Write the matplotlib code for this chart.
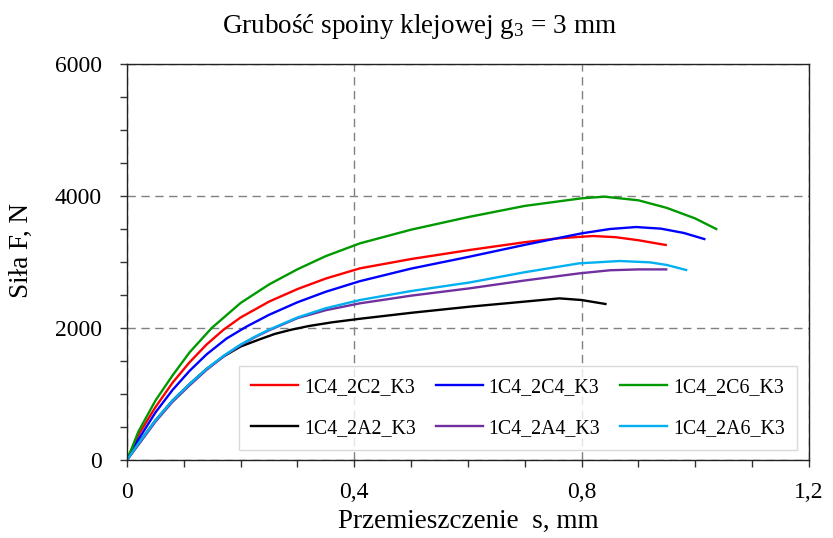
import matplotlib
matplotlib.use("Agg")
import matplotlib.pyplot as plt
from matplotlib.ticker import MultipleLocator, FuncFormatter

plt.rcParams['font.family'] = ['Liberation Serif', 'DejaVu Serif']
plt.rcParams['mathtext.fontset'] = 'custom'
plt.rcParams['mathtext.rm'] = 'Liberation Serif'
plt.rcParams['mathtext.it'] = 'Liberation Serif:italic'

# Force-displacement curves, adhesive thickness g3 = 3 mm
s_2C2 = [0, 0.02, 0.05, 0.08, 0.11, 0.14, 0.17, 0.2, 0.25, 0.3, 0.35, 0.41, 0.5, 0.603, 0.7, 0.76, 0.82, 0.86, 0.9, 0.948]
F_2C2 = [0, 380, 800, 1170, 1480, 1750, 1975, 2160, 2400, 2590, 2750, 2904, 3045, 3182, 3300, 3360, 3394, 3376, 3330, 3258]

s_2C4 = [0, 0.02, 0.05, 0.08, 0.11, 0.14, 0.175, 0.21, 0.25, 0.3, 0.35, 0.41, 0.5, 0.603, 0.7, 0.76, 0.8, 0.85, 0.896, 0.94, 0.98, 1.016]
F_2C4 = [0, 310, 720, 1060, 1350, 1600, 1840, 2020, 2200, 2390, 2550, 2710, 2900, 3081, 3260, 3365, 3434, 3500, 3530, 3505, 3440, 3348]

s_2C6 = [0, 0.02, 0.05, 0.08, 0.11, 0.149, 0.2, 0.25, 0.3, 0.35, 0.41, 0.5, 0.6, 0.7, 0.8, 0.84, 0.9, 0.95, 1.0, 1.037]
F_2C6 = [0, 430, 900, 1280, 1630, 2000, 2380, 2660, 2890, 3090, 3283, 3490, 3680, 3850, 3965, 3990, 3935, 3820, 3660, 3500]

s_2A2 = [0, 0.02, 0.05, 0.08, 0.11, 0.14, 0.17, 0.2, 0.234, 0.26, 0.287, 0.32, 0.36, 0.41, 0.5, 0.603, 0.7, 0.761, 0.8, 0.842]
F_2A2 = [0, 250, 600, 900, 1150, 1380, 1570, 1720, 1830, 1910, 1970, 2030, 2085, 2140, 2230, 2323, 2400, 2449, 2424, 2364]

s_2A4 = [0, 0.02, 0.05, 0.08, 0.11, 0.14, 0.17, 0.2, 0.225, 0.25, 0.3, 0.35, 0.41, 0.5, 0.603, 0.7, 0.796, 0.85, 0.9, 0.949]
F_2A4 = [0, 230, 580, 880, 1130, 1365, 1570, 1740, 1860, 1965, 2150, 2270, 2374, 2490, 2601, 2720, 2828, 2875, 2888, 2888]

s_2A6 = [0, 0.02, 0.05, 0.08, 0.11, 0.14, 0.17, 0.2, 0.225, 0.25, 0.3, 0.35, 0.41, 0.5, 0.603, 0.7, 0.796, 0.867, 0.92, 0.95, 0.984]
F_2A6 = [0, 250, 600, 900, 1150, 1380, 1580, 1750, 1868, 1975, 2160, 2300, 2424, 2560, 2690, 2845, 2980, 3015, 2995, 2955, 2879]

series = [
    ("1C4_2C2_K3", s_2C2, F_2C2, "#ff0000"),
    ("1C4_2C4_K3", s_2C4, F_2C4, "#0000ff"),
    ("1C4_2C6_K3", s_2C6, F_2C6, "#009900"),
    ("1C4_2A2_K3", s_2A2, F_2A2, "#000000"),
    ("1C4_2A4_K3", s_2A4, F_2A4, "#7030a0"),
    ("1C4_2A6_K3", s_2A6, F_2A6, "#00b0f0"),
]

fig = plt.figure(figsize=(8.33, 5.38), dpi=100)
ax = fig.add_axes([0.1525, 0.145, 0.8185, 0.736])

lines = []
for name, s, F, c in series:
    ln, = ax.plot(s, F, color=c, lw=1.7, label=name, solid_joinstyle='round')
    lines.append(ln)

ax.set_xlim(0, 1.2)
ax.set_ylim(0, 6000)
ax.xaxis.set_major_locator(MultipleLocator(0.4))
ax.xaxis.set_minor_locator(MultipleLocator(0.1))
ax.yaxis.set_major_locator(MultipleLocator(2000))
ax.yaxis.set_minor_locator(MultipleLocator(500))
ax.xaxis.set_major_formatter(FuncFormatter(lambda v, p: ("%g" % round(v, 2)).replace(".", ",")))
ax.yaxis.set_major_formatter(FuncFormatter(lambda v, p: "%d" % v))
ax.tick_params(which='both', direction='out', length=5, width=1, color='#333333')
ax.tick_params(which='major', pad=11, labelsize=17)
ax.tick_params(axis='y', which='major', pad=13)

ax.grid(True, which='major', color='#808080', linestyle=(0, (6, 4)), linewidth=1)
for sp in ax.spines.values():
    sp.set_linewidth(1.0)
    sp.set_color('#222222')

ax.set_xlabel("Przemieszczenie  s, mm", fontsize=19.5, labelpad=4)
ax.set_ylabel("Siła F, N", fontsize=19.5)
ax.yaxis.set_label_coords(-0.136, 0.53)
fig.text(0.503, 0.95, r"Grubość spoiny klejowej g$_\mathrm{3}$ = 3 mm", ha='center', va='center', fontsize=19.5)

# legend filled row by row: C-series on top, A-series below
order = [0, 3, 1, 4, 2, 5]
leg = ax.legend([lines[i] for i in order], [series[i][0] for i in order],
                ncol=3, loc='lower right', bbox_to_anchor=(0.982, 0.025),
                borderaxespad=0, fontsize=14.3, frameon=True, fancybox=False,
                edgecolor='#d0d0d0', handlelength=2.36, handletextpad=0.3,
                borderpad=0.6, labelspacing=1.1, columnspacing=1.0)
leg.get_frame().set_linewidth(1.0)

fig.savefig("out.png", dpi=100)
